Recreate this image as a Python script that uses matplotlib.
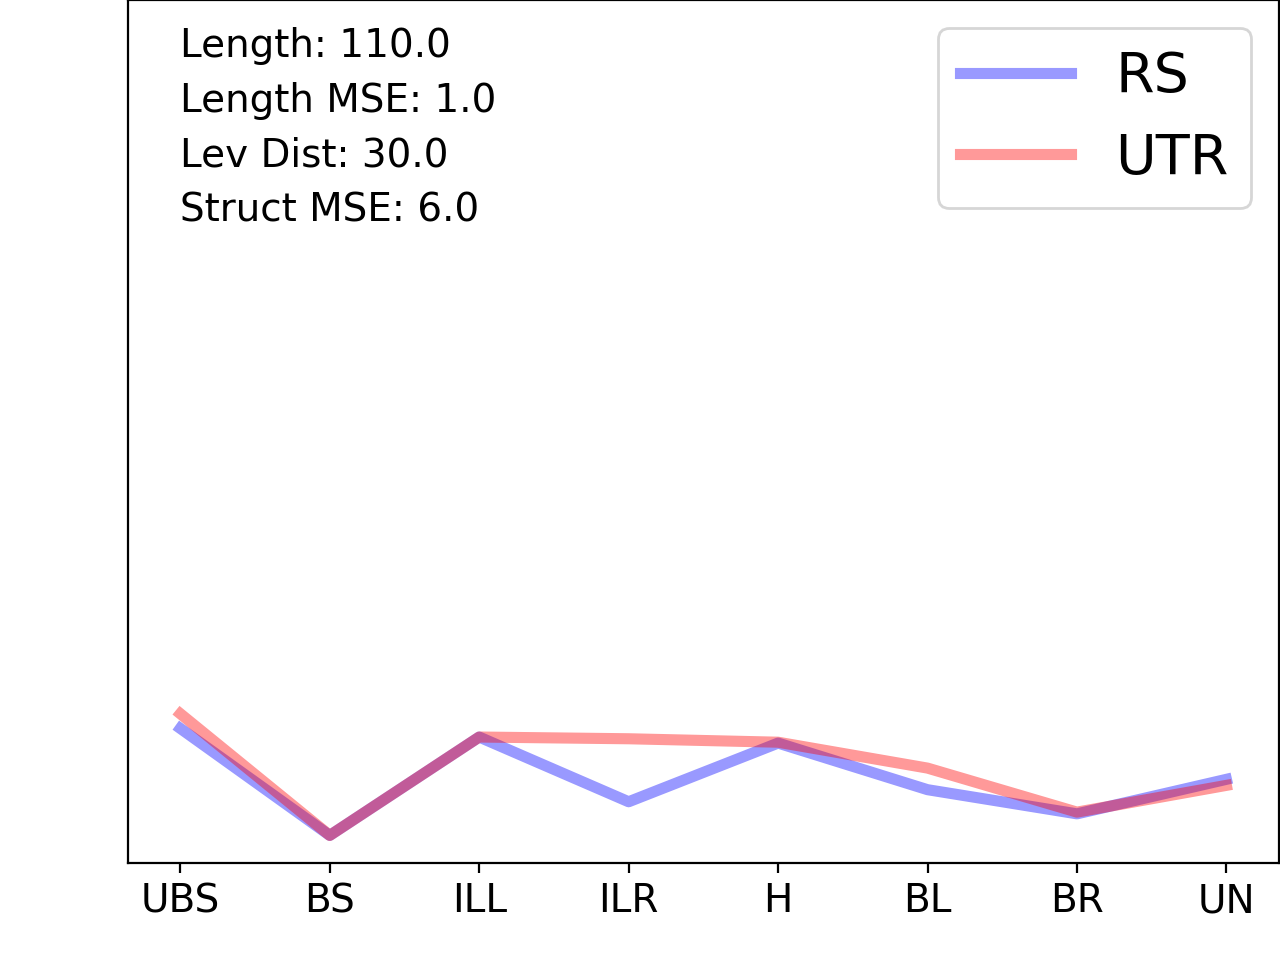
import matplotlib
matplotlib.use("Agg")
import matplotlib.pyplot as plt
import matplotlib.transforms as mtransforms

categories = ["UBS", "BS", "ILL", "ILR", "H", "BL", "BR", "UN"]
rs_values = [15.6, 3.2, 14.6, 7.1, 13.9, 8.5, 5.7, 9.7]
utr_values = [17.3, 3.2, 14.6, 14.4, 14.0, 11.0, 5.9, 9.0]
series_labels = ["RS", "UTR"]
info_lines = ["Length: 110.0", "Length MSE: 1.0", "Lev Dist: 30.0", "Struct MSE: 6.0"]

fig = plt.figure(figsize=(6.4, 4.8), dpi=200)
ax = fig.add_axes([0.1, 0.101, 0.899, 0.899])

x = list(range(len(categories)))
ax.plot(x, rs_values, color="blue", alpha=0.4, lw=4, label=series_labels[0])
ax.plot(x, utr_values, color="red", alpha=0.4, lw=4, label=series_labels[1])

ax.set_xticks(x)
ax.set_xticklabels(categories, fontsize=14)
ax.set_yticks([])
ax.set_ylim(0, 100)

trans = mtransforms.blended_transform_factory(ax.transData, ax.transAxes)
ys = [0.934, 0.870, 0.8065, 0.743]
for line, yy in zip(info_lines, ys):
    ax.text(0, yy, line, transform=trans, fontsize=14, va="baseline", ha="left")

ax.legend(loc="upper right", fontsize=20)

fig.savefig("out.png", dpi=200)
